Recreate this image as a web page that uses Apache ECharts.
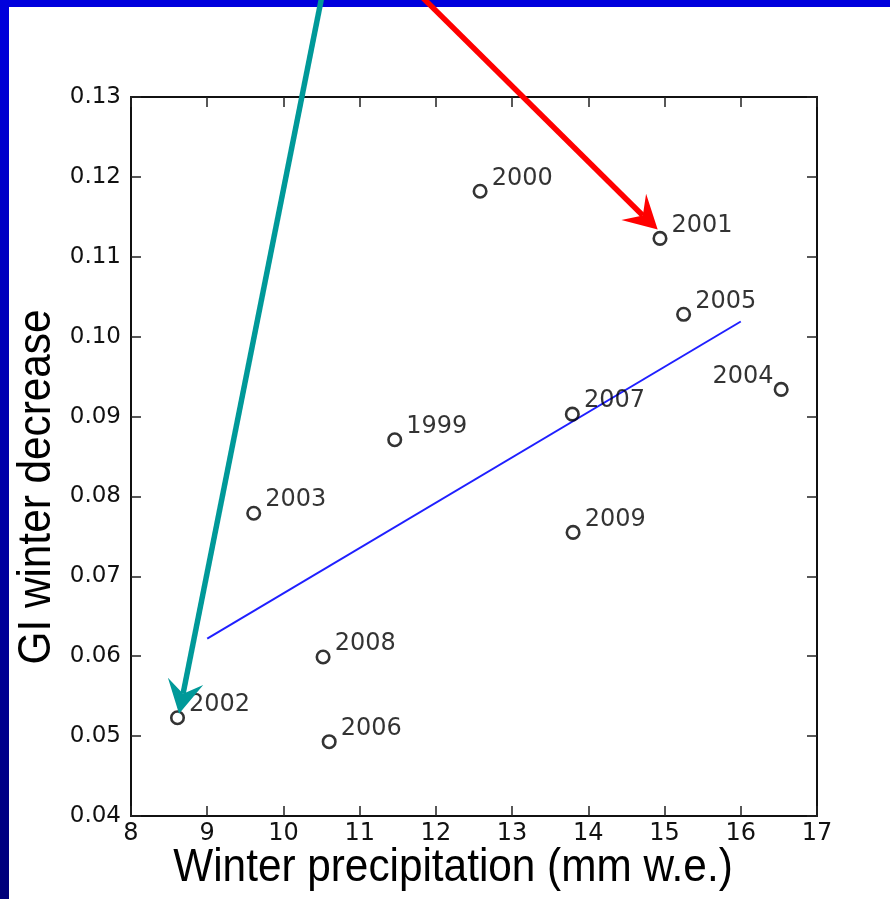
<!DOCTYPE html>
<html><head><meta charset="utf-8">
<script src="https://cdn.jsdelivr.net/npm/echarts@6/dist/echarts.min.js"></script>
<style>html,body{margin:0;padding:0;background:#fff}#c{width:890px;height:899px}</style>
</head><body><div id="c"></div>
<script>
// ---- data ----
const years    = ['2000','2001','2005','2004','2007','1999','2003','2009','2008','2002','2006'];
const precip   = [12.58, 14.94, 15.25, 16.53, 13.79, 11.46, 9.61, 13.80, 10.52, 8.61, 10.60];
const decrease = [0.1182,0.1123,0.1028,0.0934,0.0903,0.0871,0.0779,0.0755,0.0599,0.0523,0.0493];
const fitX = [9, 16];
const fitY = [0.0622, 0.1019];
const xTicks = [8, 9, 10, 11, 12, 13, 14, 15, 16, 17];
const yTicks = ['0.04','0.05','0.06','0.07','0.08','0.09','0.10','0.11','0.12','0.13'];
const xTitle = 'Winter precipitation (mm w.e.)';
const yTitle = 'GI winter decrease';
// annotation arrows (data space): start above the plot, tip at highlighted year
const arrowTeal = {from: [10.52, 0.1421], to: [8.63, 0.0528]};
const arrowRed  = {from: [11.73, 0.1421], to: [14.91, 0.1134]};

const chart = echarts.init(document.getElementById('c'));
const axisCommon = {
  type: 'value',
  axisLine: {show: true, onZero: false, lineStyle: {color: '#111', width: 2}},
  axisTick: {show: true, inside: true, length: 10, lineStyle: {color: '#222', width: 1.5}},
  splitLine: {show: false}
};

chart.setOption({
  animation: false,
  backgroundColor: '#fff',
  grid: {left: 131, right: 73, top: 97, bottom: 83},
  xAxis: [
    Object.assign({}, axisCommon, {position: 'bottom', min: xTicks[0], max: xTicks[xTicks.length-1], interval: 1,
      axisLabel: {show: true, margin: 6, fontFamily: 'DejaVu Sans', fontSize: 24, color: '#111'}}),
    Object.assign({}, axisCommon, {position: 'top', min: xTicks[0], max: xTicks[xTicks.length-1], interval: 1,
      axisLabel: {show: false}})
  ],
  yAxis: [
    Object.assign({}, axisCommon, {position: 'left', min: +yTicks[0], max: +yTicks[yTicks.length-1], interval: 0.01,
      axisLabel: {show: true, margin: 10, formatter: v => v.toFixed(2), fontFamily: 'DejaVu Sans', fontSize: 23, color: '#111'}}),
    Object.assign({}, axisCommon, {position: 'right', min: +yTicks[0], max: +yTicks[yTicks.length-1], interval: 0.01,
      axisLabel: {show: false}})
  ],
  series: [
    {
      type: 'line', data: fitX.map((x, i) => [x, fitY[i]]), showSymbol: false, symbol: 'none',
      lineStyle: {color: '#1f1fff', width: 2}, z: 2, silent: true
    },
    {
      type: 'scatter', symbol: 'circle', symbolSize: 12.5, z: 3,
      itemStyle: {color: 'rgba(255,255,255,0)', borderColor: '#000', borderWidth: 2.6},
      data: precip.map((x, i) => {
        const d = {value: [x, decrease[i]]};
        if (years[i] === '2004') d.label = {position: 'left', distance: 0};
        return d;
      }),
      label: {
        show: true, position: 'right', distance: 4, offset: [0, -13],
        formatter: p => years[p.dataIndex],
        fontFamily: 'DejaVu Sans', fontSize: 24, color: '#000'
      }
    }
  ]
});

function arrow(a, color) {
  const s = chart.convertToPixel({xAxisIndex: 0, yAxisIndex: 0}, a.from);
  const t = chart.convertToPixel({xAxisIndex: 0, yAxisIndex: 0}, a.to);
  const dx = t[0] - s[0], dy = t[1] - s[1];
  const len = Math.hypot(dx, dy);
  const ux = dx / len, uy = dy / len, nx = -uy, ny = ux;
  const L = 33, W = 18, N = 0.62 * L;
  const notch = [t[0] - ux * N, t[1] - uy * N];
  const b1 = [t[0] - ux * L + nx * W, t[1] - uy * L + ny * W];
  const b2 = [t[0] - ux * L - nx * W, t[1] - uy * L - ny * W];
  return [
    {type: 'line', z: 100, shape: {x1: s[0], y1: s[1] - 10, x2: notch[0], y2: notch[1]},
      style: {stroke: color, lineWidth: 5.5}},
    {type: 'polygon', z: 101, shape: {points: [t, b1, notch, b2]}, style: {fill: color}}
  ];
}

chart.setOption({
  graphic: [
    {type: 'rect', z: 50, shape: {x: 0, y: 0, width: 890, height: 7}, style: {fill: '#0000dd'}},
    {type: 'rect', z: 50, shape: {x: 0, y: 0, width: 9, height: 899},
      style: {fill: {type: 'linear', x: 0, y: 0, x2: 0, y2: 1,
        colorStops: [{offset: 0, color: '#0000dd'}, {offset: 1, color: '#00007a'}]}}},
    {type: 'text', x: 453, y: 868, scaleX: 0.9, z: 60,
      style: {text: xTitle, font: '47px "Liberation Sans", Arial, sans-serif', fill: '#000',
        align: 'center', verticalAlign: 'middle'}},
    {type: 'text', x: 37, y: 487, rotation: Math.PI / 2, scaleX: 0.9, z: 60,
      style: {text: yTitle, font: '47px "Liberation Sans", Arial, sans-serif', fill: '#000',
        align: 'center', verticalAlign: 'middle'}}
  ].concat(arrow(arrowTeal, '#009999'), arrow(arrowRed, '#ff0000'))
});
</script>
</body></html>
